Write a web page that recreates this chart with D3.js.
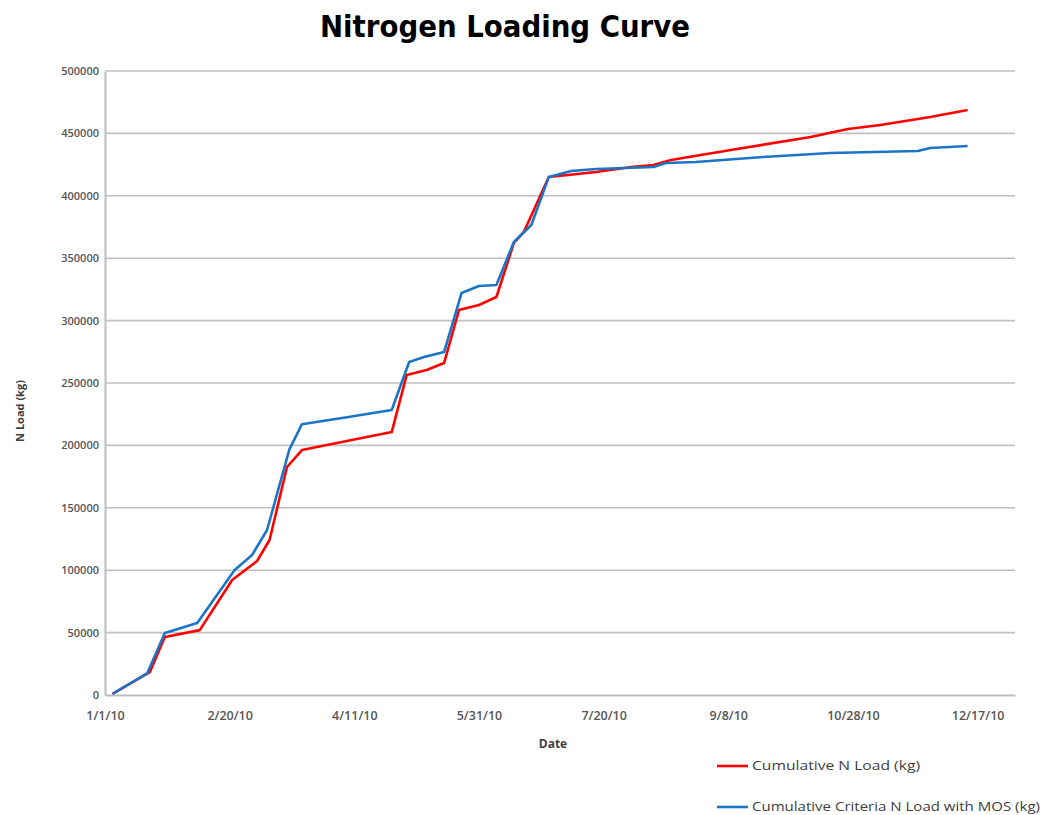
<!DOCTYPE html>
<html>
<head>
<meta charset="utf-8">
<script src="https://cdn.jsdelivr.net/npm/d3@7"></script>
<style>
  html, body { margin: 0; padding: 0; background: #fff; }
  svg { display: block; }
</style>
</head>
<body>
<svg id="chart" width="1045" height="815"></svg>
<script>
// ---- data ----
const title = "Nitrogen Loading Curve";
const xTitle = "Date";
const yTitle = "N Load (kg)";
const seriesNames = ["Cumulative N Load (kg)", "Cumulative Criteria N Load with MOS (kg)"];

const loadDates = ["2010-01-04","2010-01-19","2010-01-25","2010-02-08","2010-02-21","2010-03-03","2010-03-08",
  "2010-03-15","2010-03-21","2010-04-26","2010-05-02","2010-05-10","2010-05-17","2010-05-23","2010-05-31",
  "2010-06-07","2010-06-14","2010-06-18","2010-06-22","2010-06-28","2010-07-17","2010-07-31","2010-08-09",
  "2010-08-16","2010-09-09","2010-10-11","2010-10-26","2010-11-08","2010-11-28","2010-12-13"];
const loadValues = [1000,18400,46500,52000,92100,107400,124200,
  182700,196300,210700,256400,260400,266000,308500,312500,
  318900,362200,371000,388600,415000,419100,423100,424700,
  428700,436700,447100,453500,456700,463100,468800];

const criteriaDates = ["2010-01-04","2010-01-18","2010-01-25","2010-02-07","2010-02-22","2010-03-01","2010-03-07",
  "2010-03-16","2010-03-21","2010-04-08","2010-04-26","2010-05-03","2010-05-09","2010-05-17","2010-05-24","2010-05-31",
  "2010-06-07","2010-06-14","2010-06-21","2010-06-28","2010-07-07","2010-07-17","2010-08-09","2010-08-14",
  "2010-08-26","2010-09-22","2010-10-19","2010-11-23","2010-11-28","2010-12-13"];
const criteriaValues = [800,17600,49700,57700,100200,112200,132200,
  197000,217000,222500,228400,266800,270800,274800,322100,327700,
  328500,363000,376600,415000,419900,421500,423100,426300,
  427100,431100,434300,435900,438300,439900];

const xTickDates = ["2010-01-01","2010-02-20","2010-04-11","2010-05-31","2010-07-20","2010-09-08","2010-10-28","2010-12-17"];
const yTicks = [0,50000,100000,150000,200000,250000,300000,350000,400000,450000,500000];
const colors = ["#ff0000", "#1b75c6"];

// ---- drawing ----
const parse = d3.timeParse("%Y-%m-%d");
const svg = d3.select("#chart");
const plot = {left: 105, right: 1015, top: 71, bottom: 695};

const x = d3.scaleTime()
  .domain([parse("2010-01-01"), parse("2011-01-01")])
  .range([plot.left, plot.right]);
const y = d3.scaleLinear().domain([0, 500000]).range([plot.bottom, plot.top]);

// gridlines
svg.append("g")
  .selectAll("line").data(yTicks.filter(v => v > 0)).join("line")
  .attr("x1", plot.left).attr("x2", plot.right)
  .attr("y1", d => y(d)).attr("y2", d => y(d))
  .attr("stroke", "#c0c0c0").attr("stroke-width", 1.6);

// y axis
const yAxis = svg.append("g")
  .attr("transform", `translate(${plot.left},0)`)
  .call(d3.axisLeft(y).tickValues(yTicks).tickSize(0).tickPadding(6).tickFormat(d3.format("d")));
yAxis.select(".domain").attr("stroke", "#bcbcbc").attr("stroke-width", 2);
yAxis.selectAll("text")
  .attr("font-family", "'Open Sans', 'Liberation Sans', sans-serif")
  .attr("font-size", 11).attr("font-weight", 600).attr("fill", "#555");

// x axis
const fmt = d => `${d.getMonth() + 1}/${d.getDate()}/${String(d.getFullYear()).slice(2)}`;
const xAxis = svg.append("g")
  .attr("transform", `translate(0,${plot.bottom})`)
  .call(d3.axisBottom(x).tickValues(xTickDates.map(parse)).tickSize(0).tickPadding(16).tickFormat(fmt));
xAxis.select(".domain").attr("stroke", "#bcbcbc").attr("stroke-width", 2);
xAxis.selectAll("text")
  .attr("font-family", "'Open Sans', 'Liberation Sans', sans-serif")
  .attr("font-size", 12.5).attr("font-weight", 600).attr("fill", "#555");

// lines
const line = d3.line().x(d => x(d.date)).y(d => y(d.value));
const series = [
  loadDates.map((d, i) => ({date: parse(d), value: loadValues[i]})),
  criteriaDates.map((d, i) => ({date: parse(d), value: criteriaValues[i]}))
];
series.forEach((s, i) => {
  svg.append("path").datum(s)
    .attr("d", line)
    .attr("fill", "none")
    .attr("stroke", colors[i])
    .attr("stroke-width", 2.6)
    .attr("stroke-linejoin", "round");
});

// title
svg.append("text")
  .attr("x", 505).attr("y", 37)
  .attr("text-anchor", "middle")
  .attr("font-family", "'DejaVu Sans Condensed', 'DejaVu Sans', sans-serif")
  .attr("font-size", 30).attr("font-weight", "bold").attr("fill", "#000")
  .attr("textLength", 370).attr("lengthAdjust", "spacingAndGlyphs")
  .text(title);

// axis titles
svg.append("text")
  .attr("x", 553).attr("y", 748)
  .attr("text-anchor", "middle")
  .attr("font-family", "'Open Sans', 'Liberation Sans', sans-serif")
  .attr("font-size", 12).attr("font-weight", "bold").attr("fill", "#404040")
  .text(xTitle);

svg.append("text")
  .attr("transform", "translate(24,411) rotate(-90)")
  .attr("text-anchor", "middle")
  .attr("font-family", "'Open Sans', 'Liberation Sans', sans-serif")
  .attr("font-size", 11).attr("font-weight", "bold").attr("fill", "#404040")
  .text(yTitle);

// legend
const legendY = [766, 807];
const legendW = [168, 288];
seriesNames.forEach((name, i) => {
  svg.append("line")
    .attr("x1", 717).attr("x2", 748)
    .attr("y1", legendY[i]).attr("y2", legendY[i])
    .attr("stroke", colors[i]).attr("stroke-width", 2.6);
  svg.append("text")
    .attr("x", 752).attr("y", legendY[i] + 4)
    .attr("font-family", "'Open Sans', 'Liberation Sans', sans-serif")
    .attr("font-size", 12).attr("fill", "#404040")
    .attr("textLength", legendW[i]).attr("lengthAdjust", "spacingAndGlyphs")
    .text(name);
});
</script>
</body>
</html>
